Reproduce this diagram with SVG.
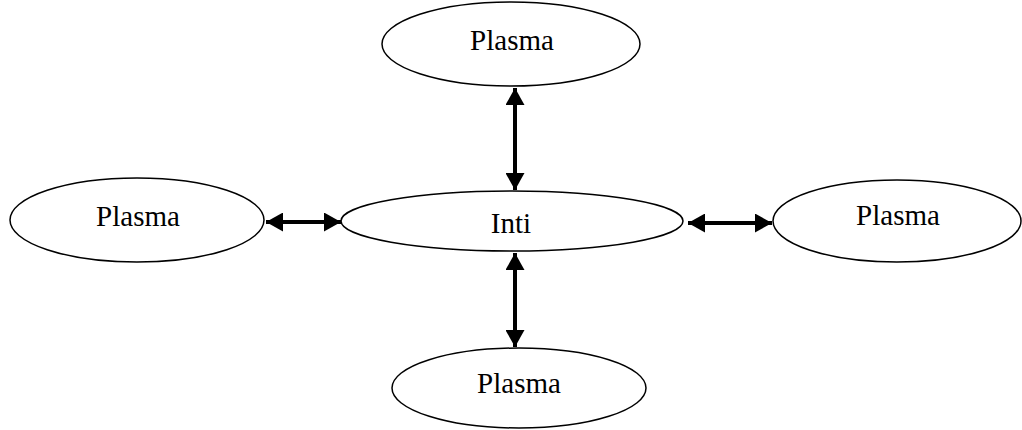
<svg xmlns="http://www.w3.org/2000/svg" width="1022" height="430" viewBox="0 0 1022 430">
<style>
.node ellipse{fill:#fff;stroke:#000;stroke-width:1.5}
.node text{font-family:"Liberation Serif","Times New Roman",serif;font-size:29px;fill:#000;text-anchor:middle}
.conn line{stroke:#000;stroke-width:4}
</style>
<defs>
<marker id="ah" viewBox="0 0 17 19" refX="17" refY="9.5" markerWidth="17" markerHeight="19" markerUnits="userSpaceOnUse" orient="auto-start-reverse">
<path d="M0,0 L17,9.5 L0,19 Z" fill="#000"/>
</marker>
</defs>
<rect width="1022" height="430" fill="#fff"/>
<g id="connectors" class="conn">
<line x1="515" y1="88" x2="515" y2="190" marker-start="url(#ah)" marker-end="url(#ah)"/>
<line x1="515" y1="253" x2="515" y2="347" marker-start="url(#ah)" marker-end="url(#ah)"/>
<line x1="266" y1="222" x2="341" y2="222" marker-start="url(#ah)" marker-end="url(#ah)"/>
<line x1="688" y1="223" x2="772" y2="223" marker-start="url(#ah)" marker-end="url(#ah)"/>
</g>
<g id="plasma-top" class="node"><ellipse cx="511" cy="44" rx="129" ry="42"/><text x="512" y="50">Plasma</text></g>
<g id="inti" class="node"><ellipse cx="512" cy="221" rx="171" ry="30"/><text x="511" y="233">Inti</text></g>
<g id="plasma-left" class="node"><ellipse cx="137" cy="220" rx="127" ry="42"/><text x="138" y="226">Plasma</text></g>
<g id="plasma-right" class="node"><ellipse cx="897" cy="221" rx="124" ry="41"/><text x="898" y="225">Plasma</text></g>
<g id="plasma-bottom" class="node"><ellipse cx="519" cy="388" rx="127" ry="40"/><text x="519" y="393">Plasma</text></g>
</svg>
